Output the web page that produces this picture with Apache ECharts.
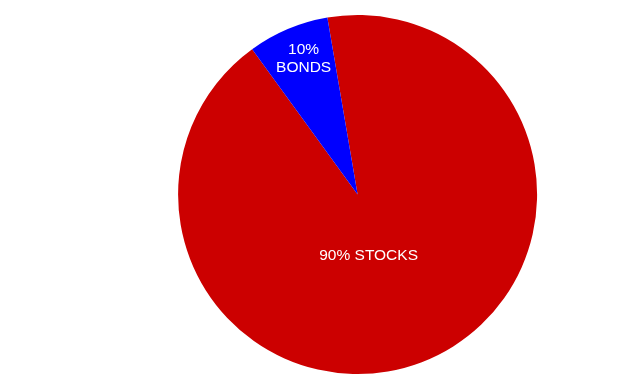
<!DOCTYPE html>
<html>
<head>
<meta charset="utf-8">
<script src="https://cdn.jsdelivr.net/npm/echarts@6/dist/echarts.min.js"></script>
<style>
html,body{margin:0;padding:0;background:#fff;}
#chart{width:640px;height:388px;}
</style>
</head>
<body>
<div id="chart"></div>
<script>
const categories = ['STOCKS', 'BONDS'];
const values = [92.7, 7.3];
const labelTexts = ['90% STOCKS', '10%\nBONDS'];
const colors = ['#CC0000', '#0000FF'];

const labelOffsets = [[-25, -24], [-18, -50]];

const chart = echarts.init(document.getElementById('chart'), null, {renderer: 'canvas'});
chart.setOption({
  animation: false,
  backgroundColor: '#ffffff',
  series: [{
    type: 'pie',
    center: [357.6, 194.5],
    radius: [0, 179.5],
    startAngle: 99.7,
    clockwise: true,
    avoidLabelOverlap: false,
    labelLine: {show: false},
    data: categories.map((c, i) => ({
      name: c,
      value: values[i],
      itemStyle: {color: colors[i]},
      label: {
        show: true,
        position: 'inside',
        formatter: labelTexts[i],
        color: '#ffffff',
        fontSize: 15.5,
        lineHeight: 18,
        fontFamily: 'Liberation Sans, Arial, sans-serif',
        offset: labelOffsets[i]
      }
    })),
    emphasis: {disabled: true}
  }]
});
</script>
</body>
</html>
